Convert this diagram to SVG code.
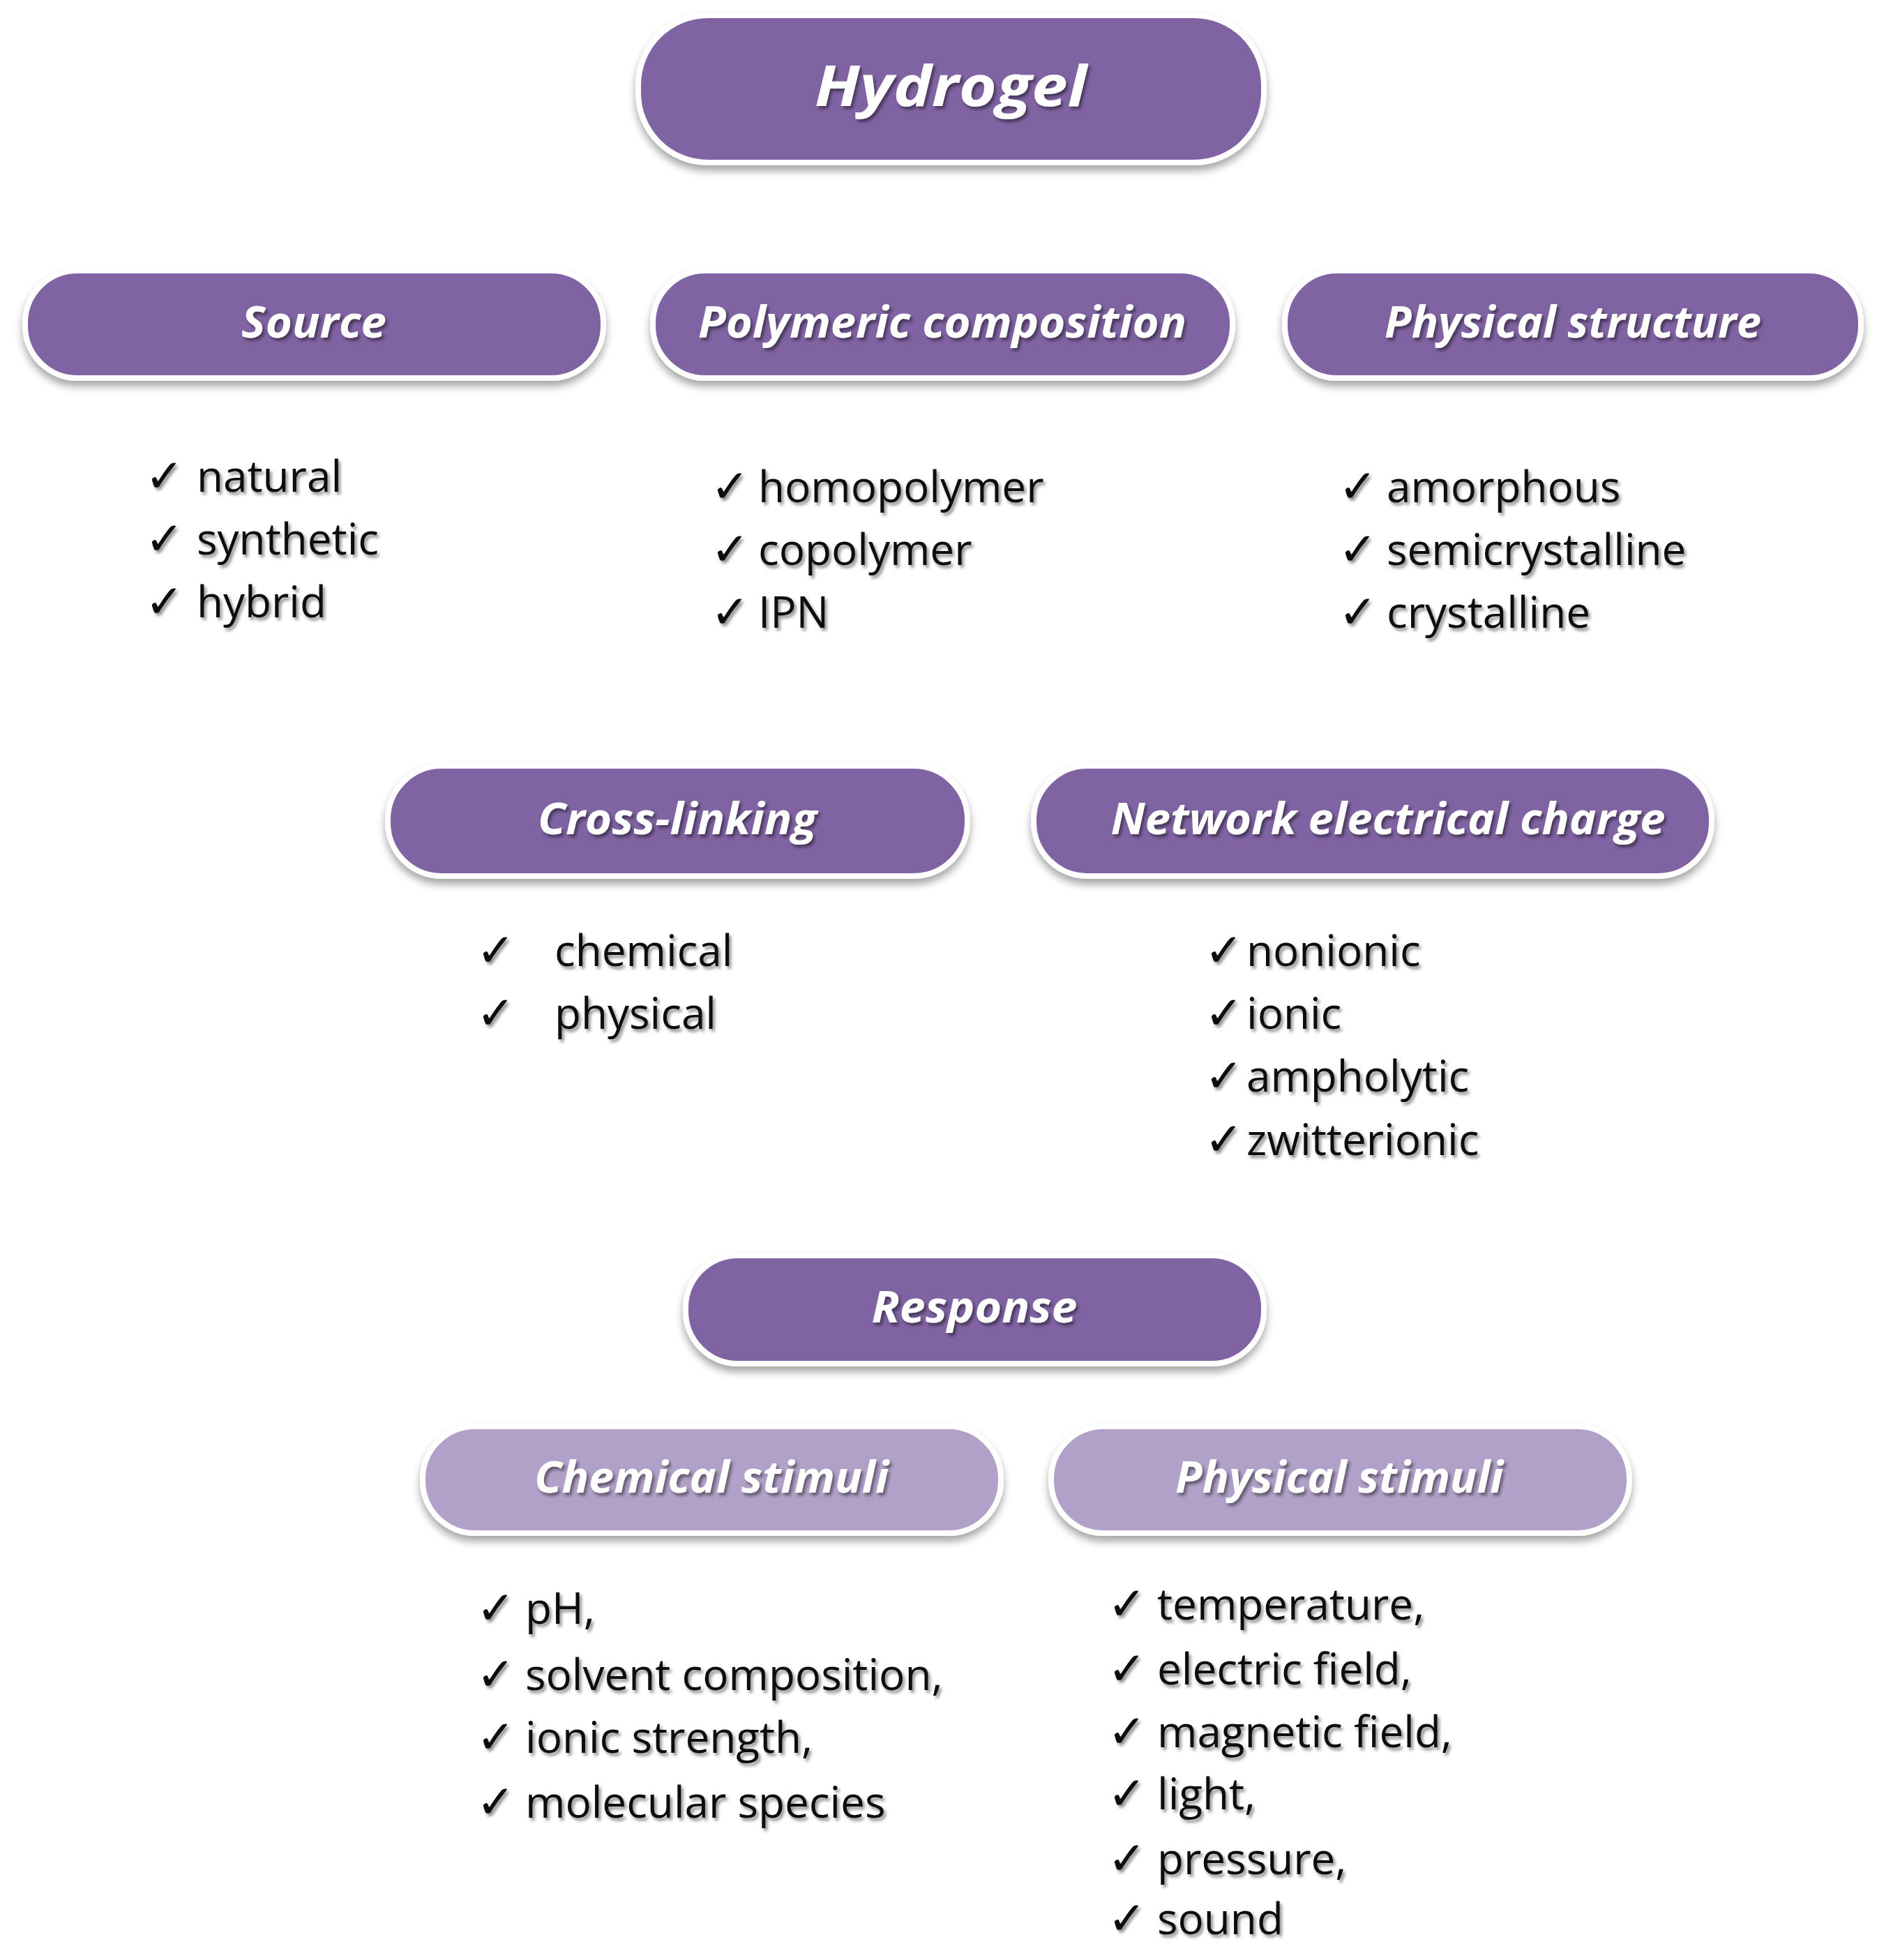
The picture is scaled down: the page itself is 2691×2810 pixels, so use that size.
<svg xmlns="http://www.w3.org/2000/svg" width="2691" height="2810" viewBox="0 0 2691 2810">
<defs>
<filter id="sh" x="-10%" y="-20%" width="120%" height="150%"><feDropShadow dx="0" dy="8" stdDeviation="6" flood-color="#000" flood-opacity="0.35"/></filter>
<filter id="ts" x="-10%" y="-20%" width="120%" height="150%"><feDropShadow dx="3" dy="4" stdDeviation="2" flood-color="#000" flood-opacity="0.45"/></filter>
</defs>
<style>
.b{fill:#8064A2;stroke:#fff;stroke-width:8;filter:url(#sh)}
.l{fill:#B1A0C7;stroke:#fff;stroke-width:8;filter:url(#sh)}
.h{font-family:"Open Sans","Liberation Sans",sans-serif;font-weight:bold;font-style:italic;fill:#fff;text-anchor:middle;filter:url(#ts)}
.i{font-family:"Open Sans","Liberation Sans",sans-serif;font-size:62px;fill:#111;filter:url(#ts)}
.c{font-family:"DejaVu Sans",sans-serif;font-size:66px;font-weight:bold}
</style>
<rect width="2691" height="2810" fill="#fff"/>
<g id="hydrogel"><rect class="b" x="915" y="22" width="897" height="211" rx="100"/><text class="h" x="1363" y="152" font-size="80" textLength="390" lengthAdjust="spacingAndGlyphs">Hydrogel</text></g>
<g id="source"><rect class="b" x="36" y="388" width="829" height="154" rx="75"/><text class="h" x="450" y="484" font-size="62" textLength="208" lengthAdjust="spacingAndGlyphs">Source</text></g>
<g id="polymeric"><rect class="b" x="936" y="388" width="831" height="154" rx="75"/><text class="h" x="1351" y="484" font-size="62" textLength="700" lengthAdjust="spacingAndGlyphs">Polymeric composition</text></g>
<g id="physstruct"><rect class="b" x="1842" y="388" width="826" height="154" rx="75"/><text class="h" x="2255" y="484" font-size="62" textLength="540" lengthAdjust="spacingAndGlyphs">Physical structure</text></g>
<g id="source-items" class="i"><text x="208" y="705"><tspan class="c">✓</tspan><tspan x="282">natural</tspan></text><text x="208" y="795"><tspan class="c">✓</tspan><tspan x="282">synthetic</tspan></text><text x="208" y="885"><tspan class="c">✓</tspan><tspan x="282">hybrid</tspan></text></g>
<g id="poly-items" class="i"><text x="1019" y="720"><tspan class="c">✓</tspan><tspan x="1087">homopolymer</tspan></text><text x="1019" y="810"><tspan class="c">✓</tspan><tspan x="1087">copolymer</tspan></text><text x="1019" y="900"><tspan class="c">✓</tspan><tspan x="1087">IPN</tspan></text></g>
<g id="struct-items" class="i"><text x="1919" y="720"><tspan class="c">✓</tspan><tspan x="1988">amorphous</tspan></text><text x="1919" y="810"><tspan class="c">✓</tspan><tspan x="1988">semicrystalline</tspan></text><text x="1919" y="900"><tspan class="c">✓</tspan><tspan x="1988">crystalline</tspan></text></g>
<g id="crosslinking"><rect class="b" x="556" y="1098" width="831" height="158" rx="77"/><text class="h" x="971" y="1196" font-size="62" textLength="400" lengthAdjust="spacingAndGlyphs">Cross-linking</text></g>
<g id="network"><rect class="b" x="1482" y="1098" width="972" height="158" rx="77"/><text class="h" x="1990" y="1196" font-size="62" textLength="795" lengthAdjust="spacingAndGlyphs">Network electrical charge</text></g>
<g id="cross-items" class="i"><text x="683" y="1385"><tspan class="c">✓</tspan><tspan x="795">chemical</tspan></text><text x="683" y="1475"><tspan class="c">✓</tspan><tspan x="795">physical</tspan></text></g>
<g id="net-items" class="i"><text x="1727" y="1385"><tspan class="c">✓</tspan><tspan x="1787">nonionic</tspan></text><text x="1727" y="1475"><tspan class="c">✓</tspan><tspan x="1787">ionic</tspan></text><text x="1727" y="1565"><tspan class="c">✓</tspan><tspan x="1787">ampholytic</tspan></text><text x="1727" y="1656"><tspan class="c">✓</tspan><tspan x="1787">zwitterionic</tspan></text></g>
<g id="response"><rect class="b" x="983" y="1800" width="829" height="155" rx="75"/><text class="h" x="1397" y="1896" font-size="62" textLength="295" lengthAdjust="spacingAndGlyphs">Response</text></g>
<g id="chemstim"><rect class="l" x="606" y="2045" width="829" height="153" rx="75"/><text class="h" x="1020" y="2140" font-size="62" textLength="508" lengthAdjust="spacingAndGlyphs">Chemical stimuli</text></g>
<g id="physstim"><rect class="l" x="1507" y="2045" width="829" height="153" rx="75"/><text class="h" x="1920" y="2140" font-size="62" textLength="470" lengthAdjust="spacingAndGlyphs">Physical stimuli</text></g>
<g id="chem-items" class="i"><text x="683" y="2328"><tspan class="c">✓</tspan><tspan x="753">pH,</tspan></text><text x="683" y="2423"><tspan class="c">✓</tspan><tspan x="753">solvent composition,</tspan></text><text x="683" y="2513"><tspan class="c">✓</tspan><tspan x="753">ionic strength,</tspan></text><text x="683" y="2606"><tspan class="c">✓</tspan><tspan x="753">molecular species</tspan></text></g>
<g id="phys-items" class="i"><text x="1588" y="2322"><tspan class="c">✓</tspan><tspan x="1659">temperature,</tspan></text><text x="1588" y="2415"><tspan class="c">✓</tspan><tspan x="1659">electric field,</tspan></text><text x="1588" y="2505"><tspan class="c">✓</tspan><tspan x="1659">magnetic field,</tspan></text><text x="1588" y="2594"><tspan class="c">✓</tspan><tspan x="1659">light,</tspan></text><text x="1588" y="2687"><tspan class="c">✓</tspan><tspan x="1659">pressure,</tspan></text><text x="1588" y="2773"><tspan class="c">✓</tspan><tspan x="1659">sound</tspan></text></g>
<g id="connectors"/>
</svg>
